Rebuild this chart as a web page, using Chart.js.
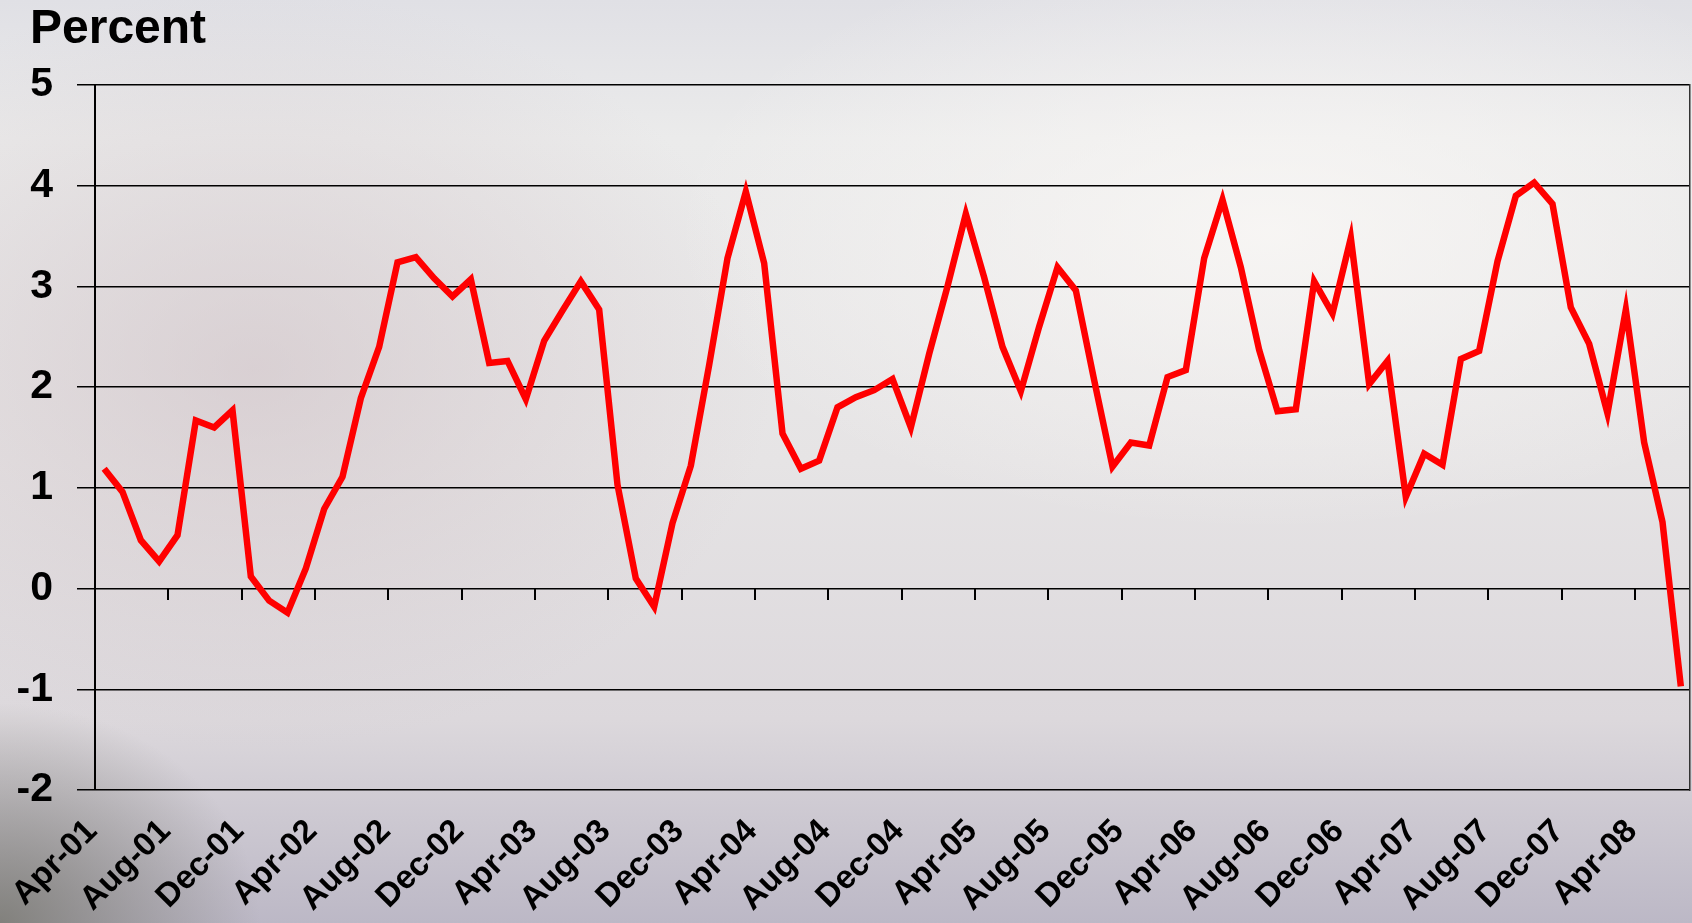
<!DOCTYPE html>
<html>
<head>
<meta charset="utf-8">
<title>Percent</title>
<script src="https://cdn.jsdelivr.net/npm/chart.js@4/dist/chart.umd.min.js"></script>
<style>
  html, body { margin: 0; padding: 0; }
  body {
    width: 1692px; height: 923px; overflow: hidden;
    background:
      radial-gradient(ellipse 260px 220px at 0% 100%, rgba(110,110,100,0.75), rgba(110,110,100,0) 100%),
      radial-gradient(ellipse 520px 380px at 15% 40%, rgba(205,190,195,0.55), rgba(205,190,195,0) 100%),
      radial-gradient(ellipse 600px 300px at 75% 25%, rgba(250,248,246,0.8), rgba(250,248,246,0) 100%),
      linear-gradient(to bottom, #e0e0e5 0%, #ebebeb 15%, #e6e4e5 50%, #dcd8dc 78%, #bcb8c6 100%);
  }
  #wrap { position: relative; width: 1692px; height: 923px; }
</style>
</head>
<body>
<div id="wrap"><canvas id="chart"></canvas></div>
<script>
// monthly, Apr-01 .. Jun-08
const monthNames = ['Jan', 'Feb', 'Mar', 'Apr', 'May', 'Jun', 'Jul', 'Aug', 'Sep', 'Oct', 'Nov', 'Dec'];
const percentValues = [
    1.19, 0.96, 0.48, 0.27, 0.53, 1.67, 1.60, 1.77, 0.12, -0.12,
    -0.24, 0.20, 0.79, 1.11, 1.89, 2.40, 3.24, 3.29, 3.08, 2.90,
    3.07, 2.24, 2.26, 1.88, 2.46, 2.76, 3.05, 2.77, 1.03, 0.10,
    -0.18, 0.65, 1.22, 2.22, 3.28, 3.94, 3.23, 1.54, 1.19, 1.27,
    1.80, 1.90, 1.97, 2.08, 1.60, 2.33, 3.00, 3.72, 3.09, 2.40,
    1.96, 2.60, 3.19, 2.96, 2.07, 1.21, 1.45, 1.42, 2.10, 2.17,
    3.28, 3.86, 3.19, 2.37, 1.76, 1.78, 3.05, 2.73, 3.48, 2.03,
    2.26, 0.91, 1.34, 1.23, 2.28, 2.36, 3.25, 3.90, 4.03, 3.82,
    2.79, 2.43, 1.74, 2.77, 1.45, 0.66, -0.97
];
const yTicks = [-2, -1, 0, 1, 2, 3, 4, 5];

var labels = [];
for (var i = 0; i < percentValues.length; i++) {
    var m = 3 + i;
    labels.push(monthNames[m % 12] + '-' + String(1 + Math.floor(m / 12)).padStart(2, '0'));
}

const FONT = "'Liberation Sans', Arial, sans-serif";

// "Percent" header above the value axis
const headerPlugin = {
    id: 'header',
    afterDraw: function (chart) {
        var ctx = chart.ctx;
        ctx.save();
        ctx.font = 'bold 48px ' + FONT;
        ctx.fillStyle = '#000';
        ctx.textAlign = 'left';
        ctx.textBaseline = 'alphabetic';
        ctx.fillText('Percent', 30, 43);
        ctx.restore();
    }
};

new Chart(document.getElementById('chart'), {
    type: 'line',
    data: {
        labels: labels,
        datasets: [{
            data: percentValues,
            borderColor: '#ff0000',
            borderWidth: 6.5,
            pointRadius: 0,
            tension: 0,
            fill: false,
            xAxisID: 'x',
            yAxisID: 'y'
        }]
    },
    options: {
        responsive: true,
        maintainAspectRatio: false,
        animation: false,
        layout: { autoPadding: false, padding: { top: 85, left: 16, right: 2, bottom: 0 } },
        plugins: {
            legend: { display: false },
            tooltip: { enabled: false }
        },
        scales: {
            // tick marks sitting on the zero line
            x: {
                type: 'category',
                position: { y: 0 },
                offset: true,
                border: { display: false },
                grid: {
                    display: true,
                    offset: true,
                    drawOnChartArea: false,
                    drawTicks: true,
                    tickLength: 11,
                    lineWidth: 2,
                    color: (c) => (c.index > 0 && c.index % 4 === 0) ? '#000' : 'rgba(0,0,0,0)'
                },
                ticks: { display: false, autoSkip: false }
            },
            // date labels along the bottom
            x2: {
                type: 'category',
                position: 'bottom',
                offset: true,
                border: { display: false },
                grid: { display: false, drawTicks: false },
                ticks: {
                    autoSkip: false,
                    minRotation: 45,
                    maxRotation: 45,
                    padding: 22,
                    labelOffset: -12,
                    color: '#000',
                    font: { family: FONT, size: 33, weight: 'bold' },
                    callback: (v, idx) => idx % 4 === 0 ? labels[idx] : ''
                },
                afterFit: function (scale) {
                    // keep the plot box where the original has it
                    scale.height = 133;
                    scale.paddingLeft = 0;
                    scale.paddingRight = 0;
                }
            },
            y: {
                min: yTicks[0],
                max: yTicks[yTicks.length - 1],
                border: { display: true, color: '#000', width: 2 },
                grid: { color: '#000', lineWidth: 1.5, tickLength: 18 },
                ticks: {
                    stepSize: 1,
                    padding: 24,
                    color: '#000',
                    font: { family: FONT, size: 41, weight: 'bold' }
                },
                afterFit: function (scale) {
                    scale.width = 79;
                }
            },
            yR: {
                position: 'right',
                border: { display: true, color: '#333', width: 1.5 },
                grid: { drawOnChartArea: false, drawTicks: false },
                ticks: { display: false }
            }
        }
    },
    plugins: [headerPlugin]
});
</script>
</body>
</html>
